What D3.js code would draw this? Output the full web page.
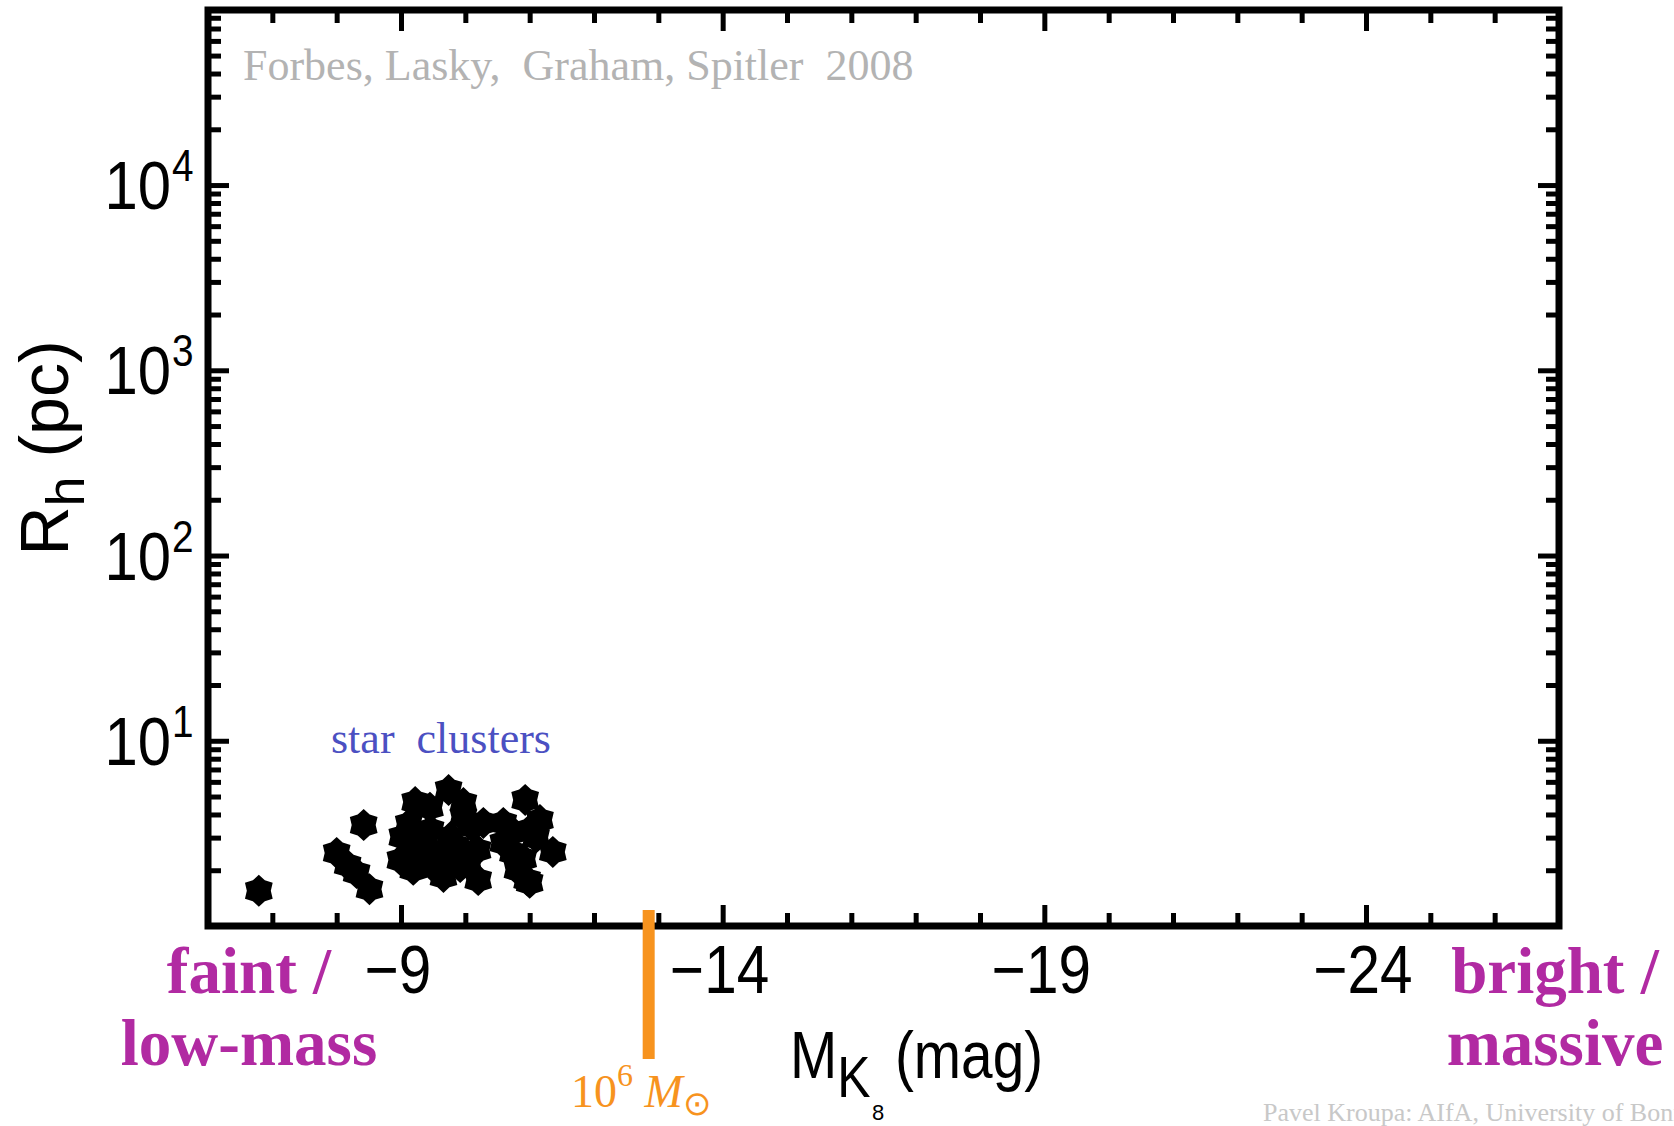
<!DOCTYPE html>
<html>
<head>
<meta charset="utf-8">
<script src="https://cdn.jsdelivr.net/npm/d3@7"></script>
<style>
  body { margin: 0; background: #fff; }
  svg { display: block; }
  .serif { font-family: "Liberation Serif", "Times New Roman", serif; }
  .sans { font-family: "Liberation Sans", Arial, Helvetica, sans-serif; }
</style>
</head>
<body>
<svg width="1674" height="1126"></svg>
<script>
// star clusters (M_K in mag, R_h in pc)
const clusterMK = [-6.79, -8.42, -8.00, -8.17, -8.31, -8.51, -9.22, -9.74, -9.97, -8.99,
  -9.26, -9.50, -9.77, -9.97, -10.20, -10.28, -9.46, -10.93, -11.16, -10.59,
  -10.74, -10.96, -11.36, -9.02, -9.46, -9.92, -9.19, -9.66, -9.97, -10.19,
  -10.59, -11.00, -10.81, -11.00, -9.30, -9.60, -9.85, -10.05, -9.12, -9.45,
  -10.10, -10.75, -10.90, -11.10];
const clusterRh = [1.55, 3.51, 2.48, 2.13, 1.93, 1.58, 4.67, 5.42, 4.61, 2.27,
  2.67, 2.08, 3.02, 2.48, 1.77, 3.60, 3.30, 4.79, 3.73, 3.60,
  2.48, 1.77, 2.51, 3.02, 2.57, 2.08, 2.01, 1.84, 3.88, 2.57,
  2.81, 3.30, 2.01, 1.71, 2.30, 2.35, 2.70, 2.15, 3.55, 4.35,
  3.45, 3.20, 2.30, 3.00];

const xMajorTicks = [-9, -14, -19, -24];
const yMajorExponents = [1, 2, 3, 4];
const massMarkMK = -12.85;   // 10^6 Msun

const svg = d3.select('svg');

let plotLeft = 208, plotRight = 1559, plotTop = 10, plotBottom = 926;

let x = d3.scaleLinear().domain([-6, -27]).range([plotLeft, plotRight]);
let y = d3.scaleLog().domain([1, Math.pow(10, 4.945)]).range([plotBottom, plotTop]);

let xMinor = d3.range(-7, -27, -1).filter(v => xMajorTicks.indexOf(v) < 0);
let yMajor = yMajorExponents.map(e => Math.pow(10, e));
let yMinor = y.ticks().filter(v => v > 1 && Math.abs(Math.log10(v) - Math.round(Math.log10(v))) > 1e-6);

let minorLen = 13, majorLen = 21;

function tickAxis(axisFn, scale, values, len, transform) {
  let g = svg.append('g')
    .attr('transform', transform)
    .call(axisFn(scale).tickValues(values).tickSize(-len).tickFormat(''));
  g.select('.domain').remove();
  g.selectAll('.tick line').attr('stroke', '#000').attr('stroke-width', 5);
}

tickAxis(d3.axisBottom, x, xMinor, minorLen, `translate(0,${plotBottom})`);
tickAxis(d3.axisBottom, x, xMajorTicks, majorLen, `translate(0,${plotBottom})`);
tickAxis(d3.axisTop, x, xMinor, minorLen, `translate(0,${plotTop})`);
tickAxis(d3.axisTop, x, xMajorTicks, majorLen, `translate(0,${plotTop})`);
tickAxis(d3.axisLeft, y, yMinor, minorLen, `translate(${plotLeft},0)`);
tickAxis(d3.axisLeft, y, yMajor, majorLen, `translate(${plotLeft},0)`);
tickAxis(d3.axisRight, y, yMinor, minorLen, `translate(${plotRight},0)`);
tickAxis(d3.axisRight, y, yMajor, majorLen, `translate(${plotRight},0)`);

// frame
svg.append('rect')
  .attr('x', plotLeft).attr('y', plotTop)
  .attr('width', plotRight - plotLeft).attr('height', plotBottom - plotTop)
  .attr('fill', 'none').attr('stroke', '#000').attr('stroke-width', 7);

// hexagram marker
function hexagram(R, r) {
  let pts = [];
  for (let i = 0; i < 12; i++) {
    let a = -Math.PI / 2 + i * Math.PI / 6;
    let rr = i % 2 === 0 ? R : r;
    pts.push([rr * Math.cos(a), rr * Math.sin(a)]);
  }
  return 'M' + pts.map(p => p.join(',')).join('L') + 'Z';
}

let clusters = clusterMK.map((m, i) => ({ mk: m, rh: clusterRh[i] }));

svg.append('g')
  .selectAll('path')
  .data(clusters)
  .join('path')
  .attr('d', hexagram(16, 12))
  .attr('transform', d => `translate(${x(d.mk)},${y(d.rh)})`)
  .attr('fill', '#000');

// tick labels (slightly condensed like the original)
svg.append('g')
  .selectAll('text')
  .data(xMajorTicks)
  .join('text')
  .attr('class', 'sans')
  .attr('transform', d => `translate(${x(d) - 3},993) scale(0.86,1)`)
  .attr('text-anchor', 'middle')
  .attr('font-size', 68)
  .text(d => '\u2212' + Math.abs(d));

let yl = svg.append('g').selectAll('g').data(yMajorExponents).join('g');
yl.append('text')
  .attr('class', 'sans')
  .attr('transform', d => `translate(171,${y(Math.pow(10, d)) + 24}) scale(0.88,1)`)
  .attr('text-anchor', 'end')
  .attr('font-size', 68)
  .text('10');
yl.append('text')
  .attr('class', 'sans')
  .attr('transform', d => `translate(172,${y(Math.pow(10, d)) - 4}) scale(0.88,1)`)
  .attr('font-size', 44)
  .text(d => d);

// axis titles
let xt = svg.append('text').attr('class', 'sans')
  .attr('transform', 'translate(790,1078) scale(0.86,1)')
  .attr('font-size', 66);
xt.append('tspan').attr('x', 0).text('M');
xt.append('tspan').attr('font-size', 58).attr('dy', 19).text('K');
xt.append('tspan').attr('x', 122).attr('dy', -19).text('(mag)');

let yt = svg.append('text').attr('class', 'sans')
  .attr('transform', 'translate(68,448) rotate(-90)')
  .attr('text-anchor', 'middle')
  .attr('font-size', 68);
yt.append('tspan').text('R');
yt.append('tspan').attr('font-size', 54).attr('dy', 16).text('h');
yt.append('tspan').attr('dy', -16).text(' (pc)');

// annotations
svg.append('text').attr('class', 'serif')
  .attr('x', 243).attr('y', 80)
  .attr('font-size', 44).attr('fill', '#b3b3b3')
  .style('white-space', 'pre')
  .text('Forbes, Lasky,  Graham, Spitler  2008');

svg.append('text').attr('class', 'serif')
  .attr('x', 331).attr('y', 753)
  .attr('font-size', 44).attr('fill', '#4b50c2')
  .style('white-space', 'pre')
  .text('star  clusters');

// 10^6 Msun marker
svg.append('line')
  .attr('x1', x(massMarkMK)).attr('x2', x(massMarkMK))
  .attr('y1', 910).attr('y2', 1059)
  .attr('stroke', '#f7931e').attr('stroke-width', 12);

let ml = svg.append('text').attr('class', 'serif')
  .attr('x', 571).attr('y', 1107)
  .attr('font-size', 46).attr('fill', '#f7931e')
  .style('white-space', 'pre');
ml.append('tspan').text('10');
ml.append('tspan').attr('font-size', 32).attr('dy', -21).text('6');
ml.append('tspan').attr('dy', 21).attr('font-style', 'italic').text(' M');
ml.append('tspan').attr('font-size', 34).attr('dy', 8).text('\u2299');

let magenta = '#b12aa2';
[['faint /', 993], ['low-mass', 1065]].forEach(t => {
  svg.append('text').attr('class', 'serif')
    .attr('x', 249).attr('y', t[1])
    .attr('text-anchor', 'middle')
    .attr('font-size', 65).attr('font-weight', 'bold')
    .attr('fill', magenta)
    .text(t[0]);
});
[['bright /', 993], ['massive', 1065]].forEach(t => {
  svg.append('text').attr('class', 'serif')
    .attr('x', 1555).attr('y', t[1])
    .attr('text-anchor', 'middle')
    .attr('font-size', 65).attr('font-weight', 'bold')
    .attr('fill', magenta)
    .text(t[0]);
});

svg.append('text').attr('class', 'sans')
  .attr('x', 878).attr('y', 1120)
  .attr('text-anchor', 'middle')
  .attr('font-size', 22)
  .text('8');

svg.append('text').attr('class', 'serif')
  .attr('x', 1263).attr('y', 1121)
  .attr('font-size', 26).attr('fill', '#c8c8c8')
  .text('Pavel Kroupa: AIfA, University of Bonn');
</script>
</body>
</html>
